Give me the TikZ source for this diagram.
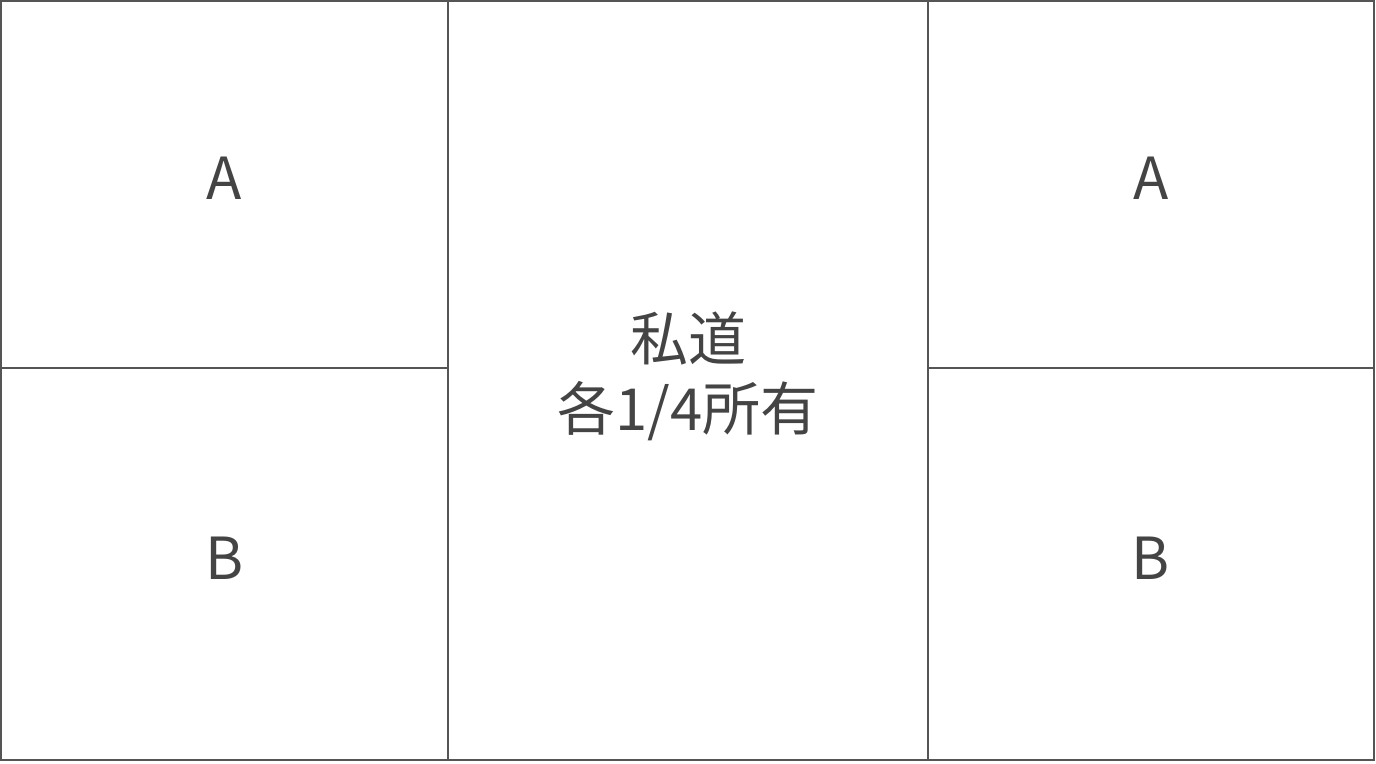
\documentclass[tikz,border=0pt]{standalone}
\usepackage{fontspec}
\setmainfont{Noto Sans CJK JP}
\usetikzlibrary{positioning}
\definecolor{edgegray}{HTML}{555555}
\definecolor{labelgray}{HTML}{444444}
\tikzset{
  lot/.style={draw=edgegray,line width=1pt,text=labelgray,inner sep=0pt,outer sep=0pt,
    anchor=north west,align=center,font=\fontsize{29}{35}\selectfont},
  sidelot/.style={lot,text depth=6pt,minimum width=223.5pt,minimum height=183.5pt},
}
\begin{document}
\begin{tikzpicture}[x=0.5pt,y=-0.5pt]
  \useasboundingbox (0,0) rectangle (1376,764);
  % left column
  \node[sidelot] (leftA) at (1,1) {A};
  \node[sidelot,minimum height=196pt] (leftB) at (1,368) {B};
  % road in the middle
  \node[lot,text depth=9pt,minimum width=240pt,minimum height=379.5pt] (road) at (448,1) {私道\\各1/4所有};
  % right column
  \node[sidelot,minimum width=223pt] (rightA) at (928,1) {A};
  \node[sidelot,minimum width=223pt,minimum height=196pt] (rightB) at (928,368) {B};
\end{tikzpicture}
\end{document}
